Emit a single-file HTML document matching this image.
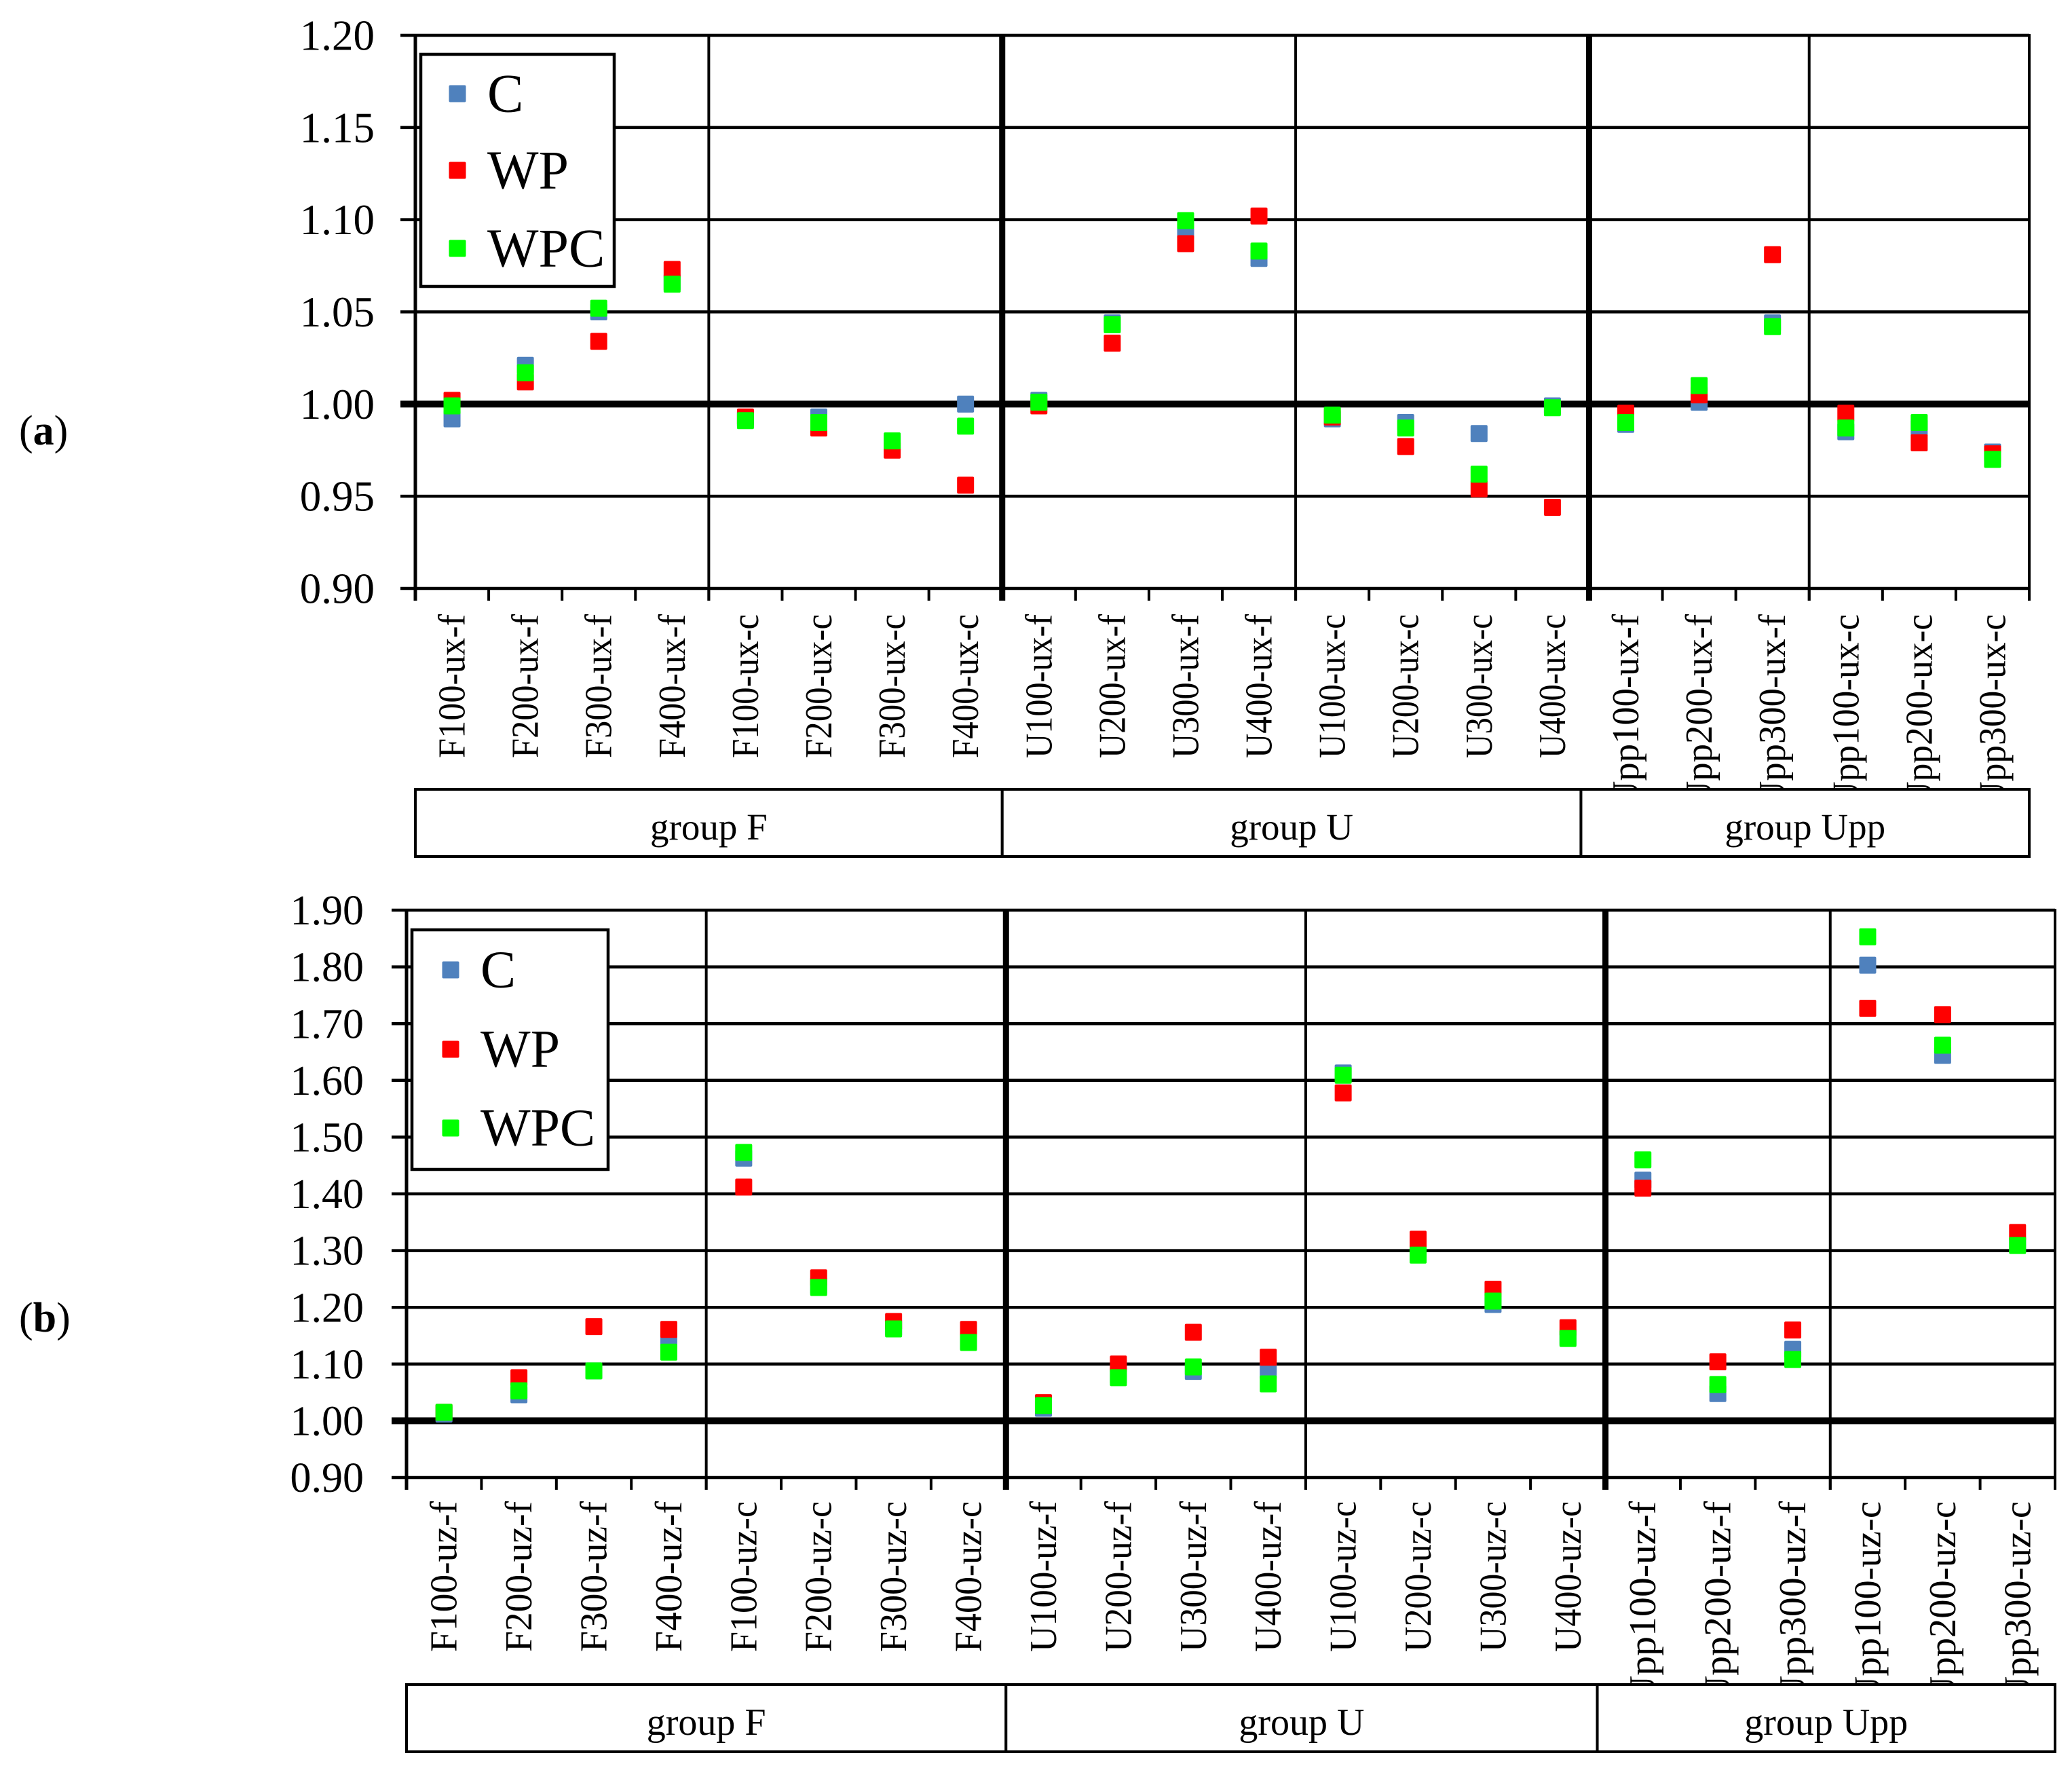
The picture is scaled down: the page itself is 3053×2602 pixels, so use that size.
<!DOCTYPE html>
<html><head><meta charset="utf-8"><style>
html,body{margin:0;padding:0;background:#fff}
svg{display:block}
text{font-family:"Liberation Serif",serif;fill:#000}
</style></head><body>
<svg id="chart" width="3053" height="2602" viewBox="0 0 3053 2602" xmlns="http://www.w3.org/2000/svg">
<text x="28" y="655" font-size="62">(<tspan font-weight="bold">a</tspan>)</text>
<text x="28" y="1962" font-size="62">(<tspan font-weight="bold">b</tspan>)</text>
<g id="pa"></g>
<g id="pb"></g>
</svg>
<script>
const catsA = ["F100-ux-f","F200-ux-f","F300-ux-f","F400-ux-f","F100-ux-c","F200-ux-c","F300-ux-c","F400-ux-c","U100-ux-f","U200-ux-f","U300-ux-f","U400-ux-f","U100-ux-c","U200-ux-c","U300-ux-c","U400-ux-c","Upp100-ux-f","Upp200-ux-f","Upp300-ux-f","Upp100-ux-c","Upp200-ux-c","Upp300-ux-c"];
const cA = [0.992,1.021,1.050,1.066,0.992,0.993,0.979,1.000,1.002,1.044,1.094,1.079,0.992,0.990,0.984,0.999,0.989,1.001,1.044,0.985,0.987,0.974];
const wpA = [1.002,1.012,1.034,1.073,0.993,0.987,0.975,0.956,0.999,1.033,1.087,1.102,0.993,0.977,0.954,0.944,0.995,1.005,1.081,0.995,0.979,0.973];
const wpcA = [0.999,1.017,1.052,1.065,0.991,0.990,0.980,0.988,1.001,1.043,1.0995,1.083,0.994,0.987,0.962,0.998,0.990,1.010,1.042,0.987,0.990,0.970];
const ticksA = ["0.90","0.95","1.00","1.05","1.10","1.15","1.20"];
const catsB = ["F100-uz-f","F200-uz-f","F300-uz-f","F400-uz-f","F100-uz-c","F200-uz-c","F300-uz-c","F400-uz-c","U100-uz-f","U200-uz-f","U300-uz-f","U400-uz-f","U100-uz-c","U200-uz-c","U300-uz-c","U400-uz-c","Upp100-uz-f","Upp200-uz-f","Upp300-uz-f","Upp100-uz-c","Upp200-uz-c","Upp300-uz-c"];
const cB = [1.012,1.046,1.088,1.141,1.463,1.238,1.164,1.140,1.022,1.080,1.087,1.088,1.613,1.295,1.205,1.147,1.424,1.048,1.126,1.803,1.644,1.310];
const wpB = [1.015,1.076,1.166,1.161,1.412,1.252,1.175,1.161,1.032,1.100,1.156,1.112,1.578,1.320,1.232,1.164,1.410,1.104,1.160,1.727,1.716,1.332];
const wpcB = [1.015,1.053,1.088,1.121,1.473,1.235,1.162,1.138,1.027,1.076,1.095,1.065,1.609,1.292,1.211,1.145,1.460,1.064,1.108,1.853,1.662,1.309];
const ticksB = ["0.90","1.00","1.10","1.20","1.30","1.40","1.50","1.60","1.70","1.80","1.90"];
const groups = ["group  F","group  U","group  Upp"];
const groupEnds = [8,16,22];
const seriesNames = ["C","WP","WPC"];
const seriesColors = ["#4f81bd","#ff0000","#00ff00"];

const NS="http://www.w3.org/2000/svg";
function mk(parent,tag,attrs){const e=document.createElementNS(NS,tag);for(const k in attrs)e.setAttribute(k,attrs[k]);parent.appendChild(e);return e;}

function draw(g,cfg){
  const {x0,x1,yTop,yBot,vMin,vMax,cats,series,ticks,tickFont,tickRight,tickLeft,labelEnd,labelLen,labelFont,boxTop,boxBot,groupBase,groupFont,legend}=cfg;
  const cw=(x1-x0)/cats.length;
  const X=i=>x0+cw*(i+0.5);
  const Y=v=>yBot-(v-vMin)/(vMax-vMin)*(yBot-yTop);
  ticks.forEach(t=>{
    const v=parseFloat(t), y=Y(v);
    const ln=mk(g,'line',{x1:tickLeft,x2:x1,y1:y,y2:y,stroke:'#000','stroke-width':(v===1?10:4.5)});
    
    
    const tx=mk(g,'text',{x:tickRight,y:y+tickFont*0.34,'font-size':tickFont,'text-anchor':'end'});
    tx.textContent=t;
    
    
  });
  const thin=[4,12,19,22], thick=[8,16];
  [0].concat(thin).concat(thick).forEach(k=>{
    const x=x0+cw*k; const w=thick.includes(k)?9:(k===0?5:4);
    const ln=mk(g,'line',{x1:x,x2:x,y1:yTop-2,y2:yBot+18,stroke:'#000','stroke-width':w});
    
    
  });
  for(let k=0;k<=cats.length;k++){
    const x=x0+cw*k;
    const ln=mk(g,'line',{x1:x,x2:x,y1:yBot,y2:yBot+18,stroke:'#000','stroke-width':4});
    
    
  }
  cats.forEach((c,i)=>{
    const x=X(i)+labelFont*0.33;
    const y=labelEnd;
    const t=mk(g,'text',{x:x,y:y,'font-size':labelFont,'text-anchor':'start',transform:`rotate(-90 ${x} ${y})`});
    t.textContent=c;
    
    
    const len=labelLen*c.length/9*(c.length>9?1.1:1);
    t.setAttribute('textLength',len);
    t.setAttribute('lengthAdjust','spacingAndGlyphs');
    t.setAttribute('x',x-len);
  });
  let prev=0;
  groupEnds.forEach((e,gi)=>{
    const xa=x0+cw*prev-(prev===16?12:0), xb=x0+cw*e-(e===16?12:0);
    const r=mk(g,'rect',{x:xa,y:boxTop,width:xb-xa,height:boxBot-boxTop,fill:'#fff',stroke:'#000','stroke-width':4});
    
    
    const t=mk(g,'text',{x:(xa+xb)/2,y:groupBase,'font-size':groupFont,'text-anchor':'middle','xml:space':'preserve'});
    t.textContent=groups[gi];
    
    
    prev=e;
  });
  series.forEach((s,si)=>{
    s.forEach((v,i)=>{
      const r=mk(g,'rect',{x:X(i)-12.5,y:Y(v)-12.5,width:25,height:25,rx:2,fill:seriesColors[si]});
      
      
    });
  });
  const lb=mk(g,'rect',{x:legend.x,y:legend.y,width:legend.w,height:legend.h,fill:'#fff',stroke:'#000','stroke-width':4.5});
  
  
  seriesNames.forEach((n,si)=>{
    const cy=legend.rows[si];
    const m=mk(g,'rect',{x:legend.mx-12.5,y:cy-12.5,width:25,height:25,rx:2,fill:seriesColors[si]});
    
    
    const t=mk(g,'text',{x:legend.tx,y:cy+legend.font*0.33,'font-size':legend.font});
    t.textContent=n;
    
    
  });
}

draw(document.getElementById('pa'),{x0:612,x1:2990,yTop:52,yBot:867,vMin:0.90,vMax:1.20,cats:catsA,series:[cA,wpA,wpcA],ticks:ticksA,tickFont:63,tickRight:552,tickLeft:590,labelEnd:905,labelLen:212,labelFont:56,boxTop:1163,boxBot:1262,groupBase:1237,groupFont:55,
  legend:{x:620,y:80,w:285,h:342,mx:674,tx:718,font:80,rows:[138,251,366]}});
draw(document.getElementById('pb'),{x0:599,x1:3028,yTop:1341,yBot:2177,vMin:0.90,vMax:1.90,cats:catsB,series:[cB,wpB,wpcB],ticks:ticksB,tickFont:62,tickRight:536,tickLeft:577,labelEnd:2212,labelLen:222,labelFont:56,boxTop:2482,boxBot:2581,groupBase:2556,groupFont:56,
  legend:{x:607,y:1370,w:289,h:353,mx:664,tx:708,font:78,rows:[1429,1546,1662]}});
</script>
</body></html>
